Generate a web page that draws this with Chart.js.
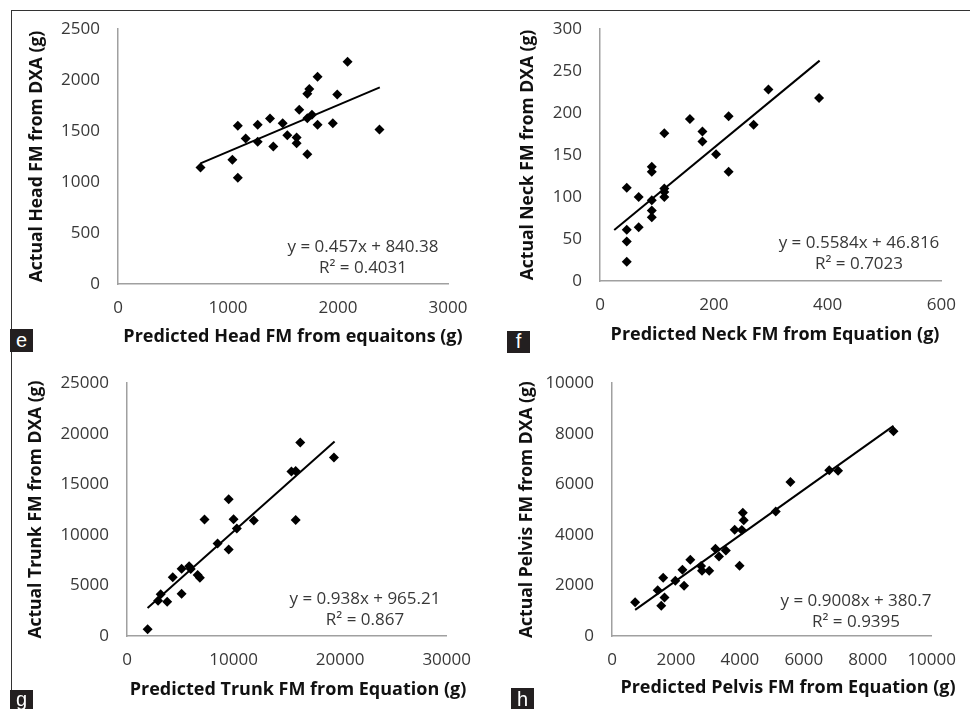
<!DOCTYPE html>
<html>
<head>
<meta charset="utf-8">
<script src="https://cdn.jsdelivr.net/npm/chart.js@4.4.1/dist/chart.umd.min.js"></script>
<style>
  body { margin: 0; background: #fff; }
  #page { position: relative; width: 970px; height: 709px; overflow: hidden; background: #fff; }
  canvas { position: absolute; }
  .frame-top { position: absolute; left: 11px; top: 10px; width: 959px; border-top: 1px solid #333; }
  .frame-left { position: absolute; left: 11px; top: 10px; height: 680px; border-left: 1px solid #333; }
  .tag { position: absolute; width: 23px; background: #231f20; color: #fff;
         font: 20px "Liberation Sans", Arial, sans-serif; text-align: center; overflow: hidden; }
</style>
</head>
<body>
<div id="page">
  <div class="frame-top"></div>
  <div class="frame-left"></div>
  <canvas id="head" width="485" height="355" style="left:0;top:0"></canvas>
  <canvas id="neck" width="485" height="355" style="left:485px;top:0"></canvas>
  <canvas id="trunk" width="485" height="354" style="left:0;top:355px"></canvas>
  <canvas id="pelvis" width="485" height="354" style="left:485px;top:355px"></canvas>
  <div class="tag" style="left:10px;top:329px;height:23px;line-height:22px">e</div>
  <div class="tag" style="left:507px;top:331px;height:22px;line-height:21px">f</div>
  <div class="tag" style="left:10px;top:690px;height:19px;line-height:18px">g</div>
  <div class="tag" style="left:511px;top:688px;height:21px;line-height:22px">h</div>
</div>
<script>
// predicted vs actual fat mass (g), one pair of arrays per region
const headPredicted = [750, 1040, 1089, 1089, 1161, 1270, 1270, 1382, 1412, 1497, 1539, 1624, 1624,
  1648, 1721, 1721, 1739, 1721, 1763, 1814, 1814, 1953, 1993, 2087, 2377];
const headActual = [1142, 1217, 1551, 1041, 1427, 1561, 1394, 1623, 1348, 1577, 1459, 1437, 1381,
  1708, 1273, 1865, 1911, 1626, 1659, 2032, 1561, 1577, 1859, 2179, 1515];

const neckPredicted = [47, 47, 47, 47, 68, 68, 91, 91, 91, 91, 91, 113, 113, 113, 113, 158, 180, 180,
  204, 226, 226, 270, 296, 385];
const neckActual = [111, 61, 47, 23, 100, 64, 136, 130, 96, 84, 76, 176, 110, 106, 100, 193, 178, 166,
  151, 196, 130, 186, 228, 218];

const trunkPredicted = [1933, 2914, 3160, 3773, 4294, 5123, 5123, 5828, 5982, 6626, 6840, 7270, 8497,
  9540, 9540, 10000, 10307, 11902, 15429, 15828, 15828, 16258, 19417];
const trunkActual = [660, 3496, 4123, 3397, 5805, 4189, 6662, 6893, 6629, 6036, 5772, 11510, 9136,
  13522, 8542, 11543, 10620, 11411, 16260, 16326, 11478, 19129, 17645];

const pelvisPredicted = [724, 1429, 1541, 1602, 1643, 1980, 2204, 2255, 2449, 2786, 2816, 3041, 3235,
  3347, 3561, 3837, 3990, 4092, 4122, 4061, 5122, 5582, 6796, 7071, 8806];
const pelvisActual = [1337, 1809, 1193, 2307, 1520, 2189, 2621, 1992, 3014, 2765, 2582, 2582, 3447,
  3145, 3381, 4207, 2778, 4875, 4574, 4194, 4928, 6094, 6553, 6540, 8100];

// linear trendlines: slope, intercept, R², x span of the drawn line
const fitSlope = [0.457, 0.5584, 0.938, 0.9008];
const fitIntercept = [840.38, 46.816, 965.21, 380.7];
const fitR2 = [0.4031, 0.7023, 0.867, 0.9395];
const fitFrom = [750, 25, 1930, 724];
const fitTo = [2380, 386, 19480, 8806];

// axis ranges: [max, step]
const xAxes = [[3000, 1000], [600, 200], [30000, 10000], [10000, 2000]];
const yAxes = [[2500, 500], [300, 50], [25000, 5000], [10000, 2000]];

const xTitles = ['Predicted Head FM from equaitons (g)', 'Predicted Neck FM from Equation (g)',
  'Predicted Trunk FM from Equation (g)', 'Predicted Pelvis FM from Equation (g)'];
const yTitles = ['Actual Head FM from DXA (g)', 'Actual Neck FM from DXA (g)',
  'Actual Trunk FM from DXA (g)', 'Actual Pelvis FM from DXA (g)'];

Chart.defaults.font.family = '"Open Sans", sans-serif';
Chart.defaults.font.size = 17;
Chart.defaults.color = '#383838';

// draws the centred x-axis caption and the trendline equation block
const panelText = {
  id: 'panelText',
  afterDraw(chart, args, opts) {
    const ctx = chart.ctx;
    ctx.save();
    ctx.textAlign = 'center';
    ctx.textBaseline = 'middle';
    ctx.fillStyle = '#111';
    ctx.font = 'bold 18px "Open Sans", sans-serif';
    ctx.fillText(opts.caption, opts.captionAt[0], opts.captionAt[1]);
    ctx.fillStyle = '#383838';
    ctx.font = '17px "Open Sans", sans-serif';
    opts.lines.forEach((t, i) => ctx.fillText(t, opts.eqAt[0], opts.eqAt[1] + i * 21));
    ctx.restore();
  }
};

function makePanel(id, k, xs, ys, area, captionAt, eqAt) {
  const canvas = document.getElementById(id);
  const w = canvas.width, h = canvas.height;
  const m = fitSlope[k], b = fitIntercept[k];
  const trend = [fitFrom[k], fitTo[k]].map(x => ({ x: x, y: m * x + b }));
  const axisLine = { display: true, color: '#a0a0a0', width: 1.5 };

  new Chart(canvas, {
    type: 'scatter',
    data: {
      datasets: [
        {
          data: xs.map((x, i) => ({ x: x, y: ys[i] })),
          pointStyle: 'rectRot',
          pointRadius: 5,
          pointHoverRadius: 5,
          backgroundColor: '#000',
          borderWidth: 0
        },
        {
          type: 'line',
          data: trend,
          borderColor: '#000',
          borderWidth: 2,
          pointRadius: 0,
          fill: false
        }
      ]
    },
    options: {
      responsive: false,
      animation: false,
      devicePixelRatio: 1,
      layout: { padding: { top: area[1], right: w - area[2], bottom: 0, left: 0 } },
      plugins: {
        legend: { display: false },
        tooltip: { enabled: false },
        panelText: {
          caption: xTitles[k],
          captionAt: captionAt,
          eqAt: eqAt,
          lines: ['y = ' + m + 'x + ' + b, 'R\u00b2 = ' + fitR2[k]]
        }
      },
      scales: {
        x: {
          type: 'linear',
          min: 0,
          max: xAxes[k][0],
          grid: { display: false, drawTicks: false },
          border: axisLine,
          ticks: { stepSize: xAxes[k][1], padding: 14, callback: v => String(v) },
          afterFit: s => { s.height = h - area[3]; }
        },
        y: {
          min: 0,
          max: yAxes[k][0],
          grid: { display: false, drawTicks: false },
          border: axisLine,
          ticks: { stepSize: yAxes[k][1], padding: 18, callback: v => String(v) },
          title: {
            display: true,
            text: yTitles[k],
            color: '#111',
            font: { weight: 'bold', size: 17.5 },
            padding: { top: area[4], bottom: 0 }
          },
          afterFit: s => { s.width = area[0]; }
        }
      }
    },
    plugins: [panelText]
  });
}

// area: [left, top, right, bottom, y-title offset]
makePanel('head', 0, headPredicted, headActual, [118, 29, 448, 284, 26.5], [293, 337], [363, 247]);
makePanel('neck', 1, neckPredicted, neckActual, [115, 29, 466, 281, 32.5], [290, 335], [374, 243]);
makePanel('trunk', 2, trunkPredicted, trunkActual, [127, 28, 452, 281, 25.5], [298, 335], [365, 244]);
makePanel('pelvis', 3, pelvisPredicted, pelvisActual, [127, 27, 453, 281, 31.5], [303, 333], [371, 246]);
</script>
</body>
</html>
